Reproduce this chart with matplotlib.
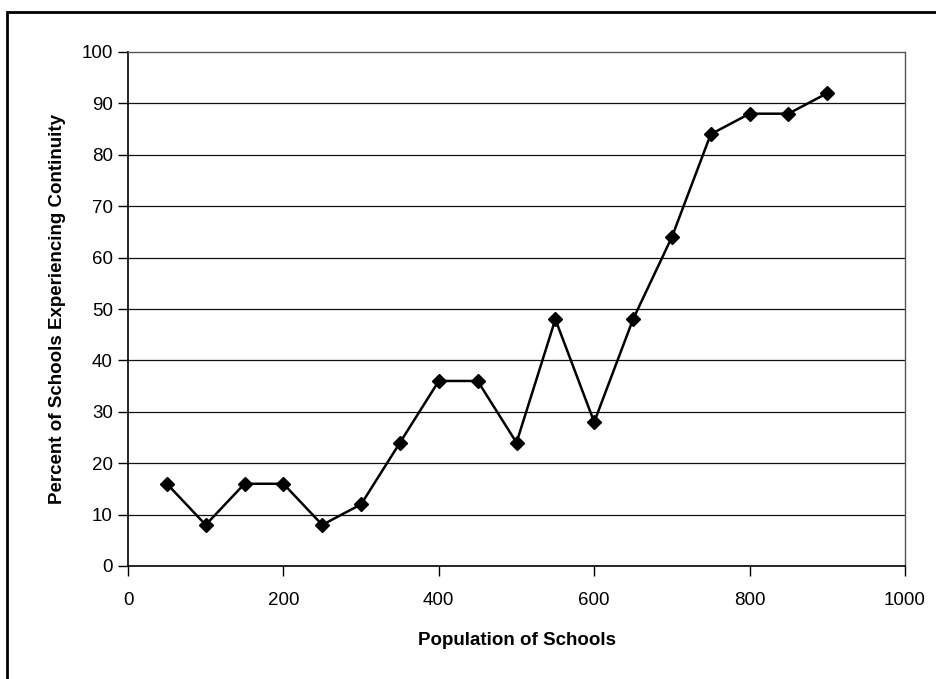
import matplotlib
matplotlib.use("Agg")
import matplotlib.pyplot as plt
from matplotlib.patches import Rectangle

population = [50, 100, 150, 200, 250, 300, 350, 400, 450, 500, 550, 600, 650, 700, 750, 800, 850, 900]
percent = [16, 8, 16, 16, 8, 12, 24, 36, 36, 24, 48, 28, 48, 64, 84, 88, 88, 92]
x_ticks = [0, 200, 400, 600, 800, 1000]
y_ticks = [0, 10, 20, 30, 40, 50, 60, 70, 80, 90, 100]

plt.rcParams['font.family'] = ['Liberation Sans', 'DejaVu Sans']

W, H = 936, 679
fig = plt.figure(figsize=(W / 100, H / 100), dpi=100)
ax = fig.add_axes([128 / W, 1 - 566 / H, (905 - 128) / W, (566 - 52) / H])

# outer border
fig.patches.append(Rectangle((7 / W, -0.01), 1.0, 1 - 12 / H + 0.01, transform=fig.transFigure,
                             fill=False, edgecolor='black', linewidth=2.0))

for y in y_ticks[1:-1]:
    ax.axhline(y, color='#111111', linewidth=0.9, zorder=1)

ax.plot(population, percent, color='black', linewidth=1.8, marker='D', markersize=7.5,
        markerfacecolor='black', markeredgecolor='black', zorder=3)

ax.set_xlim(0, 1000)
ax.set_ylim(0, 100)
ax.set_xticks(x_ticks)
ax.set_yticks(y_ticks)
ax.tick_params(axis='both', labelsize=13.5, direction='out', length=7, width=1, color='black')
ax.tick_params(axis='x', pad=12)
ax.tick_params(axis='y', pad=4)

for s in ['top', 'right']:
    ax.spines[s].set_linestyle((0, (1, 1)))
    ax.spines[s].set_color('#555555')
    ax.spines[s].set_linewidth(1.0)
for s in ['left', 'bottom']:
    ax.spines[s].set_color('black')
    ax.spines[s].set_linewidth(1.2)

ax.set_xlabel('Population of Schools', fontsize=13.5, fontweight='bold', labelpad=16)
ax.set_ylabel('Percent of Schools Experiencing Continuity', fontsize=13.5, fontweight='bold', labelpad=11)

fig.savefig('out.png', dpi=100)
